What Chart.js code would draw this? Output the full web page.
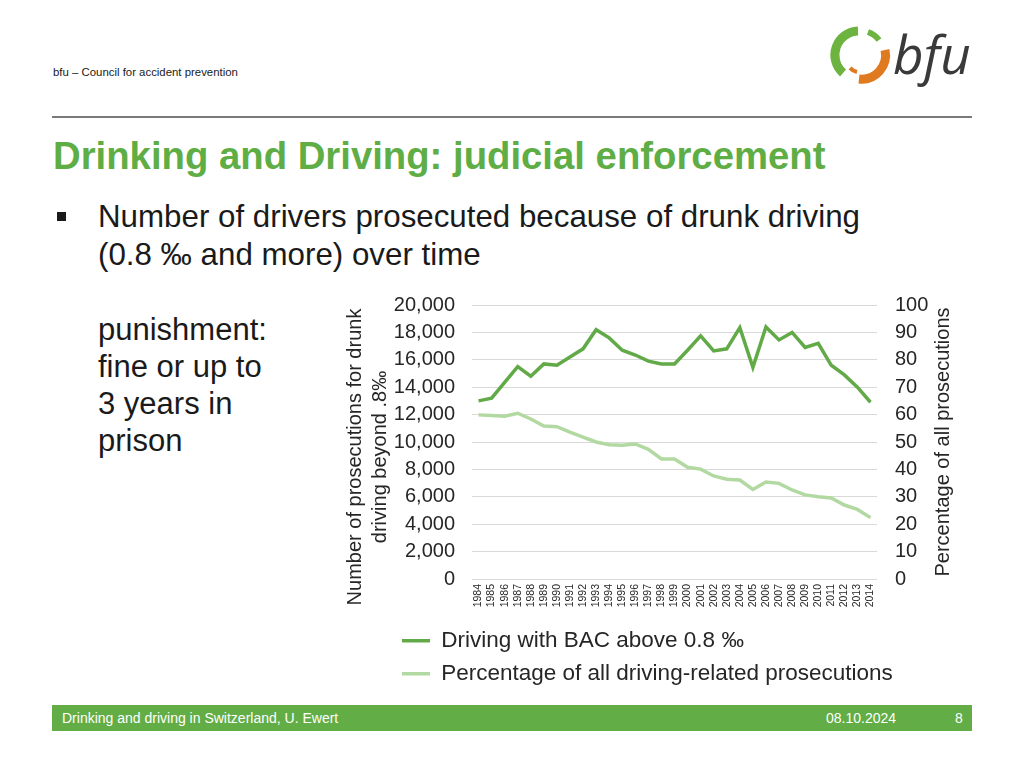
<!DOCTYPE html>
<html>
<head>
<meta charset="utf-8">
<title>Drinking and Driving: judicial enforcement</title>
<script src="https://cdn.jsdelivr.net/npm/chart.js@4.4.1/dist/chart.umd.min.js"></script>
<style>
    html, body { margin: 0; padding: 0; background: #fff; }
    body { width: 1024px; height: 768px; position: relative; overflow: hidden;
           font-family: "Liberation Sans", Arial, Helvetica, sans-serif; color: #1a1a1a; }
    .org { position: absolute; left: 53px; top: 66px; font-size: 11.4px; }
    .logo { position: absolute; left: 826px; top: 20px; }
    .rule { position: absolute; left: 52px; top: 116px; width: 920px; height: 2px; background: #7a7a7a; }
    .title { position: absolute; left: 53px; top: 137px; font-size: 38.3px; line-height: 38px; font-weight: bold; color: #5fad45; white-space: nowrap; }
    .bullet { position: absolute; left: 57px; top: 212px; width: 9px; height: 9px; background: #1a1a1a; }
    .lead { position: absolute; left: 98px; top: 198px; font-size: 31.3px; line-height: 38px; white-space: nowrap; }
    .side { position: absolute; left: 98px; top: 311px; font-size: 31px; line-height: 37px; }
    .chart-box { position: absolute; left: 330px; top: 295px; width: 640px; height: 400px; }
    .footer { position: absolute; left: 52px; top: 705px; width: 920px; height: 26px; background: #62ad45;
              color: #fff; font-family: "Liberation Sans Narrow", "Arial Narrow", "Liberation Sans", sans-serif; font-size: 14px; }
    .footer span { position: absolute; top: 5px; }
</style>
</head>
<body>
<div class="org">bfu – Council for accident prevention</div>
<svg class="logo" width="154" height="72" viewBox="826 20 154 72">
    <path d="M 858 31 A 24 24 0 0 0 843 73" stroke="#6db33f" stroke-width="9" fill="none"/>
    <path d="M 868 32 A 24 24 0 0 1 879 40" stroke="#6db33f" stroke-width="6" fill="none"/>
    <path d="M 885 50 A 24 24 0 0 1 859 79" stroke="#e07a20" stroke-width="9" fill="none"/>
    <path d="M 850 68 A 15 15 0 0 0 857 72" stroke="#e07a20" stroke-width="4" fill="none"/>
    <text x="893" y="74" font-family="Open Sans, sans-serif" font-style="italic" font-size="53" fill="#3a3a3a">bfu</text>
</svg>
<div class="rule"></div>
<div class="title">Drinking and Driving: judicial enforcement</div>
<div class="bullet"></div>
<div class="lead">Number of drivers prosecuted because of drunk driving<br>(0.8 ‰ and more) over time</div>
<div class="side">punishment:<br>fine or up to<br>3 years in<br>prison</div>
<div class="chart-box"><canvas id="drinkChart"></canvas></div>
<div class="footer">
    <span style="left: 10px;">Drinking and driving in Switzerland, U. Ewert</span>
    <span style="left: 774px;">08.10.2024</span>
    <span style="left: 903px;">8</span>
</div>

<script>
// Data
const years = ['1984', '1985', '1986', '1987', '1988', '1989', '1990', '1991', '1992', '1993',
    '1994', '1995', '1996', '1997', '1998', '1999', '2000', '2001', '2002', '2003',
    '2004', '2005', '2006', '2007', '2008', '2009', '2010', '2011', '2012', '2013', '2014'];

const bacCounts = [13000, 13200, 14350, 15500, 14800, 15700, 15600, 16200, 16800, 18200,
    17600, 16700, 16350, 15900, 15700, 15700, 16700, 17750, 16650, 16800,
    18350, 15450, 18400, 17450, 18000, 16900, 17200, 15600, 14900, 14000, 12900];

const sharePct = [59.9, 59.7, 59.4, 60.5, 58.4, 55.8, 55.6, 53.6, 51.8, 50.0,
    49.0, 48.8, 49.3, 47.3, 43.8, 43.8, 40.8, 40.1, 37.6, 36.4,
    36.1, 32.7, 35.4, 34.9, 32.5, 30.7, 30.0, 29.6, 27.0, 25.4, 22.4];

const seriesLabels = ['Driving with BAC above 0.8 ‰', 'Percentage of all driving-related prosecutions'];
const leftAxisTitle = ['Number of prosecutions for drunk', 'driving beyond .8‰'];
const rightAxisTitle = 'Percentage of all prosecutions';

const FONT = '"Liberation Sans", Arial, Helvetica, sans-serif';
const TEXT = '#262626';
const DARK_GREEN = '#62aa48';
const LIGHT_GREEN = '#b3d9a2';

/**
 * Moves the two-row legend so both rows start under the plot, like the slide.
 */
const legendShift = {
    id: 'legendShift',
    afterLayout(chart) {
        chart.legend.left = 61.5;
    }
};

/**
 * Writes a rotated (bottom-to-top) block of text lines centred on (x, y).
 */
function drawUpText(ctx, lines, x, y, lineGap) {
    ctx.save();
    ctx.translate(x, y);
    ctx.rotate(-Math.PI / 2);
    ctx.font = '20px ' + FONT;
    ctx.fillStyle = TEXT;
    ctx.textAlign = 'center';
    ctx.textBaseline = 'middle';
    lines.forEach((line, i) => ctx.fillText(line, 0, i * lineGap));
    ctx.restore();
}

/**
 * Axis titles, placed as on the slide (the left one sits a bit low,
 * the right one reads bottom to top).
 */
const axisTitles = {
    id: 'axisTitles',
    afterDraw(chart) {
        const { ctx, chartArea } = chart;
        const midY = (chartArea.top + chartArea.bottom) / 2;
        drawUpText(ctx, leftAxisTitle, chart.scales.y.left + 25, midY + 15, 25);
        drawUpText(ctx, [rightAxisTitle], chart.scales.y1.right - 27, midY, 25);
    }
};

// Fixed axis sizes so the plot lands where it sits on the slide
function fixSize(width, height) {
    return scale => {
        if (width) scale.width = width;
        if (height) scale.height = height;
        scale.paddingTop = 0;
        scale.paddingBottom = 0;
        scale.paddingLeft = 0;
        scale.paddingRight = 0;
    };
}

new Chart(document.getElementById('drinkChart'), {
    type: 'line',
    data: {
        labels: years,
        datasets: [
            {
                label: seriesLabels[0],
                data: bacCounts,
                yAxisID: 'y',
                borderColor: DARK_GREEN,
                backgroundColor: DARK_GREEN,
                borderWidth: 3.5,
                pointRadius: 0,
                tension: 0
            },
            {
                label: seriesLabels[1],
                data: sharePct,
                yAxisID: 'y1',
                borderColor: LIGHT_GREEN,
                backgroundColor: LIGHT_GREEN,
                borderWidth: 3.5,
                pointRadius: 0,
                tension: 0
            }
        ]
    },
    options: {
        responsive: true,
        maintainAspectRatio: false,
        animation: false,
        locale: 'en-US',
        layout: { padding: { top: 10 } },
        plugins: {
            tooltip: { enabled: false },
            legend: {
                position: 'bottom',
                align: 'start',
                labels: {
                    usePointStyle: true,
                    pointStyle: 'line',
                    pointStyleWidth: 28,
                    padding: 10.5,
                    color: TEXT,
                    font: { family: FONT, size: 22.5 }
                }
            }
        },
        scales: {
            x: {
                offset: true,
                grid: { display: false, drawTicks: false },
                border: { display: false },
                ticks: {
                    autoSkip: false,
                    minRotation: 90,
                    maxRotation: 90,
                    padding: 5,
                    color: TEXT,
                    font: { family: FONT, size: 10.5 }
                },
                afterFit: fixSize(0, 40)
            },
            y: {
                position: 'left',
                min: 0,
                max: 20000,
                ticks: {
                    stepSize: 2000,
                    padding: 17,
                    color: TEXT,
                    font: { family: FONT, size: 20 }
                },
                grid: { color: '#d9d9d9', lineWidth: 1, drawTicks: false },
                border: { display: false },
                afterFit: fixSize(142, 0)
            },
            y1: {
                position: 'right',
                min: 0,
                max: 100,
                ticks: {
                    stepSize: 10,
                    padding: 18,
                    color: TEXT,
                    font: { family: FONT, size: 20 }
                },
                grid: { display: false, drawTicks: false },
                border: { display: false },
                afterFit: fixSize(93, 0)
            }
        }
    },
    plugins: [legendShift, axisTitles]
});
</script>
</body>
</html>
